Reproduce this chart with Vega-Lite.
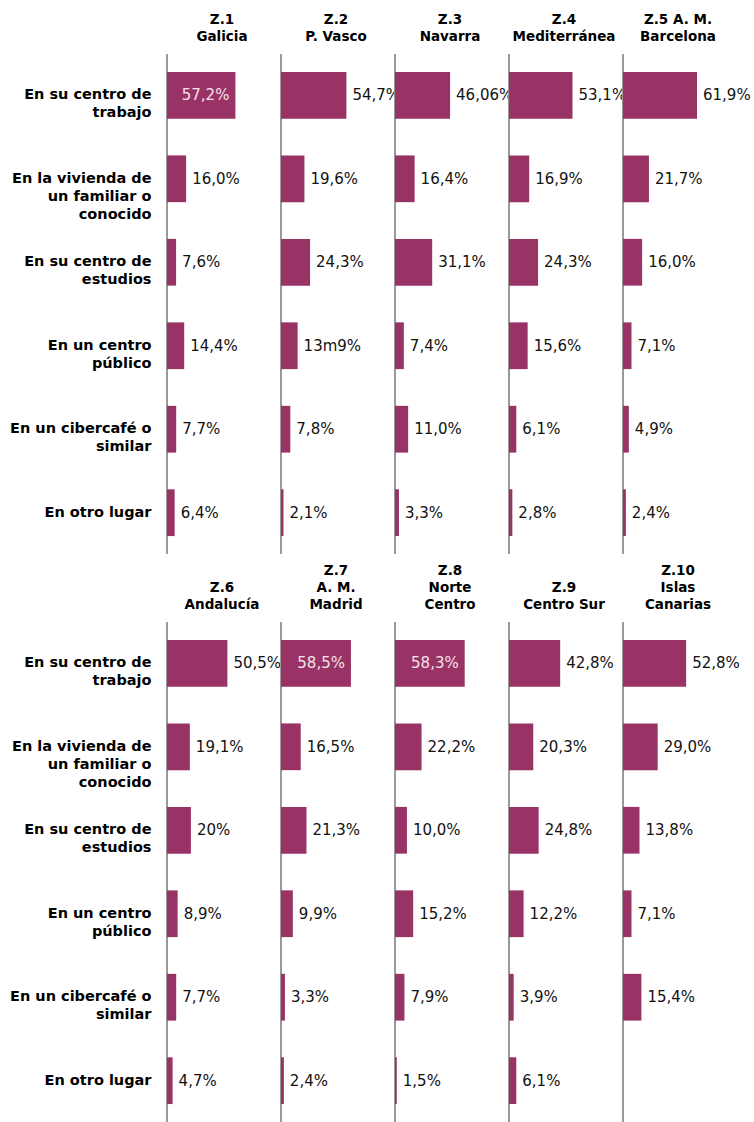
{
  "$schema": "https://vega.github.io/schema/vega-lite/v6.json",
  "background": "white",
  "padding": {"left": 9, "top": 12, "right": 0, "bottom": 0},
  "bounds": "flush",
  "data": {
    "values": [
      {"zone": "Z.1|Galicia", "place": "En su centro de|trabajo", "v": 57.2, "label": "57,2%"},
      {"zone": "Z.1|Galicia", "place": "En la vivienda de|un familiar o|conocido", "v": 16.0, "label": "16,0%"},
      {"zone": "Z.1|Galicia", "place": "En su centro de|estudios", "v": 7.6, "label": "7,6%"},
      {"zone": "Z.1|Galicia", "place": "En un centro|público", "v": 14.4, "label": "14,4%"},
      {"zone": "Z.1|Galicia", "place": "En un cibercafé o|similar", "v": 7.7, "label": "7,7%"},
      {"zone": "Z.1|Galicia", "place": "En otro lugar", "v": 6.4, "label": "6,4%"},
      {"zone": "Z.2|P. Vasco", "place": "En su centro de|trabajo", "v": 54.7, "label": "54,7%"},
      {"zone": "Z.2|P. Vasco", "place": "En la vivienda de|un familiar o|conocido", "v": 19.6, "label": "19,6%"},
      {"zone": "Z.2|P. Vasco", "place": "En su centro de|estudios", "v": 24.3, "label": "24,3%"},
      {"zone": "Z.2|P. Vasco", "place": "En un centro|público", "v": 13.9, "label": "13m9%"},
      {"zone": "Z.2|P. Vasco", "place": "En un cibercafé o|similar", "v": 7.8, "label": "7,8%"},
      {"zone": "Z.2|P. Vasco", "place": "En otro lugar", "v": 2.1, "label": "2,1%"},
      {"zone": "Z.3|Navarra", "place": "En su centro de|trabajo", "v": 46.06, "label": "46,06%"},
      {"zone": "Z.3|Navarra", "place": "En la vivienda de|un familiar o|conocido", "v": 16.4, "label": "16,4%"},
      {"zone": "Z.3|Navarra", "place": "En su centro de|estudios", "v": 31.1, "label": "31,1%"},
      {"zone": "Z.3|Navarra", "place": "En un centro|público", "v": 7.4, "label": "7,4%"},
      {"zone": "Z.3|Navarra", "place": "En un cibercafé o|similar", "v": 11.0, "label": "11,0%"},
      {"zone": "Z.3|Navarra", "place": "En otro lugar", "v": 3.3, "label": "3,3%"},
      {"zone": "Z.4|Mediterránea", "place": "En su centro de|trabajo", "v": 53.1, "label": "53,1%"},
      {"zone": "Z.4|Mediterránea", "place": "En la vivienda de|un familiar o|conocido", "v": 16.9, "label": "16,9%"},
      {"zone": "Z.4|Mediterránea", "place": "En su centro de|estudios", "v": 24.3, "label": "24,3%"},
      {"zone": "Z.4|Mediterránea", "place": "En un centro|público", "v": 15.6, "label": "15,6%"},
      {"zone": "Z.4|Mediterránea", "place": "En un cibercafé o|similar", "v": 6.1, "label": "6,1%"},
      {"zone": "Z.4|Mediterránea", "place": "En otro lugar", "v": 2.8, "label": "2,8%"},
      {"zone": "Z.5  A. M.|Barcelona", "place": "En su centro de|trabajo", "v": 61.9, "label": "61,9%"},
      {"zone": "Z.5  A. M.|Barcelona", "place": "En la vivienda de|un familiar o|conocido", "v": 21.7, "label": "21,7%"},
      {"zone": "Z.5  A. M.|Barcelona", "place": "En su centro de|estudios", "v": 16.0, "label": "16,0%"},
      {"zone": "Z.5  A. M.|Barcelona", "place": "En un centro|público", "v": 7.1, "label": "7,1%"},
      {"zone": "Z.5  A. M.|Barcelona", "place": "En un cibercafé o|similar", "v": 4.9, "label": "4,9%"},
      {"zone": "Z.5  A. M.|Barcelona", "place": "En otro lugar", "v": 2.4, "label": "2,4%"},
      {"zone": "Z.6|Andalucía", "place": "En su centro de|trabajo", "v": 50.5, "label": "50,5%"},
      {"zone": "Z.6|Andalucía", "place": "En la vivienda de|un familiar o|conocido", "v": 19.1, "label": "19,1%"},
      {"zone": "Z.6|Andalucía", "place": "En su centro de|estudios", "v": 20, "label": "20%"},
      {"zone": "Z.6|Andalucía", "place": "En un centro|público", "v": 8.9, "label": "8,9%"},
      {"zone": "Z.6|Andalucía", "place": "En un cibercafé o|similar", "v": 7.7, "label": "7,7%"},
      {"zone": "Z.6|Andalucía", "place": "En otro lugar", "v": 4.7, "label": "4,7%"},
      {"zone": "Z.7|A. M.|Madrid", "place": "En su centro de|trabajo", "v": 58.5, "label": "58,5%"},
      {"zone": "Z.7|A. M.|Madrid", "place": "En la vivienda de|un familiar o|conocido", "v": 16.5, "label": "16,5%"},
      {"zone": "Z.7|A. M.|Madrid", "place": "En su centro de|estudios", "v": 21.3, "label": "21,3%"},
      {"zone": "Z.7|A. M.|Madrid", "place": "En un centro|público", "v": 9.9, "label": "9,9%"},
      {"zone": "Z.7|A. M.|Madrid", "place": "En un cibercafé o|similar", "v": 3.3, "label": "3,3%"},
      {"zone": "Z.7|A. M.|Madrid", "place": "En otro lugar", "v": 2.4, "label": "2,4%"},
      {"zone": "Z.8|Norte|Centro", "place": "En su centro de|trabajo", "v": 58.3, "label": "58,3%"},
      {"zone": "Z.8|Norte|Centro", "place": "En la vivienda de|un familiar o|conocido", "v": 22.2, "label": "22,2%"},
      {"zone": "Z.8|Norte|Centro", "place": "En su centro de|estudios", "v": 10.0, "label": "10,0%"},
      {"zone": "Z.8|Norte|Centro", "place": "En un centro|público", "v": 15.2, "label": "15,2%"},
      {"zone": "Z.8|Norte|Centro", "place": "En un cibercafé o|similar", "v": 7.9, "label": "7,9%"},
      {"zone": "Z.8|Norte|Centro", "place": "En otro lugar", "v": 1.5, "label": "1,5%"},
      {"zone": "Z.9|Centro Sur", "place": "En su centro de|trabajo", "v": 42.8, "label": "42,8%"},
      {"zone": "Z.9|Centro Sur", "place": "En la vivienda de|un familiar o|conocido", "v": 20.3, "label": "20,3%"},
      {"zone": "Z.9|Centro Sur", "place": "En su centro de|estudios", "v": 24.8, "label": "24,8%"},
      {"zone": "Z.9|Centro Sur", "place": "En un centro|público", "v": 12.2, "label": "12,2%"},
      {"zone": "Z.9|Centro Sur", "place": "En un cibercafé o|similar", "v": 3.9, "label": "3,9%"},
      {"zone": "Z.9|Centro Sur", "place": "En otro lugar", "v": 6.1, "label": "6,1%"},
      {"zone": "Z.10|Islas|Canarias", "place": "En su centro de|trabajo", "v": 52.8, "label": "52,8%"},
      {"zone": "Z.10|Islas|Canarias", "place": "En la vivienda de|un familiar o|conocido", "v": 29.0, "label": "29,0%"},
      {"zone": "Z.10|Islas|Canarias", "place": "En su centro de|estudios", "v": 13.8, "label": "13,8%"},
      {"zone": "Z.10|Islas|Canarias", "place": "En un centro|público", "v": 7.1, "label": "7,1%"},
      {"zone": "Z.10|Islas|Canarias", "place": "En un cibercafé o|similar", "v": 15.4, "label": "15,4%"}
    ]
  },
  "facet": {
    "field": "zone",
    "type": "nominal",
    "title": null,
    "sort": ["Z.1|Galicia", "Z.2|P. Vasco", "Z.3|Navarra", "Z.4|Mediterránea", "Z.5  A. M.|Barcelona", "Z.6|Andalucía", "Z.7|A. M.|Madrid", "Z.8|Norte|Centro", "Z.9|Centro Sur", "Z.10|Islas|Canarias"],
    "header": {
      "labelExpr": "split(datum.value, '|')",
      "labelFont": "DejaVu Sans",
      "labelFontWeight": "bold",
      "labelFontSize": 13.5,
      "labelLineHeight": 17,
      "labelColor": "black",
      "labelAnchor": "middle",
      "labelAlign": "center",
      "labelBaseline": "bottom",
      "labelPadding": -4
    }
  },
  "columns": 5,
  "spacing": {"column": 4, "row": 68},
  "spec": {
    "width": 110,
    "height": 500,
    "layer": [
      {
        "transform": [{"filter": "datum.place == 'En su centro de|trabajo'"}],
        "mark": {"type": "rule", "color": "#999999", "strokeWidth": 2},
        "encoding": {
          "x": {"datum": 0, "type": "quantitative", "scale": {"domain": [0, 92], "nice": false}, "axis": null}
        }
      },
      {
        "mark": {"type": "bar", "color": "#993366"},
        "encoding": {
          "y": {
            "field": "place", "type": "nominal", "title": null,
            "scale": {"domain": ["En su centro de|trabajo", "En la vivienda de|un familiar o|conocido", "En su centro de|estudios", "En un centro|público", "En un cibercafé o|similar", "En otro lugar"], "paddingInner": 0.44, "paddingOuter": 0.215},
            "axis": {
              "labelExpr": "split(datum.value, '|')",
              "labelFont": "DejaVu Sans",
              "labelFontWeight": "bold",
              "labelFontSize": 14.5,
              "labelLineHeight": 18,
              "labelColor": "black",
              "labelPadding": 16,
              "ticks": false,
              "domain": false,
              "grid": false,
              "labelLimit": 300
            }
          },
          "x": {"field": "v", "type": "quantitative", "scale": {"domain": [0, 92], "nice": false}, "axis": null}
        }
      },
      {
        "transform": [{"filter": "!(datum.v > 57 && datum.v < 60)"}],
        "mark": {"type": "text", "align": "left", "baseline": "middle", "dx": 6, "font": "DejaVu Sans", "fontSize": 15, "color": "#111111"},
        "encoding": {
          "y": {"field": "place", "type": "nominal"},
          "x": {"field": "v", "type": "quantitative"},
          "text": {"field": "label"}
        }
      },
      {
        "transform": [{"filter": "datum.v > 57 && datum.v < 60"}],
        "mark": {"type": "text", "align": "right", "baseline": "middle", "dx": -6, "font": "DejaVu Sans", "fontSize": 15, "color": "#f3e2ea"},
        "encoding": {
          "y": {"field": "place", "type": "nominal"},
          "x": {"field": "v", "type": "quantitative"},
          "text": {"field": "label"}
        }
      }
    ]
  },
  "config": {
    "view": {"stroke": null}
  }
}
